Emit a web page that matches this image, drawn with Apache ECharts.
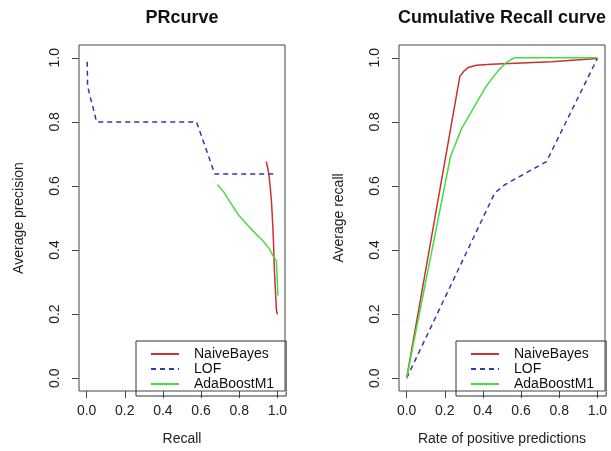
<!DOCTYPE html>
<html>
<head>
<meta charset="utf-8">
<title>PR / Cumulative Recall</title>
<script src="https://cdn.jsdelivr.net/npm/echarts@6/dist/echarts.min.js"></script>
<style>
  html, body { margin: 0; padding: 0; background: #fff; }
  #main { width: 611px; height: 451px; }
</style>
</head>
<body>
<div id="main"></div>
<script type="text/javascript">
// tick labels (both axes, both panels)
var ticks = [0, 0.2, 0.4, 0.6, 0.8, 1.0];
var names = ['NaiveBayes', 'LOF', 'AdaBoostM1'];

// PR curve (recall, precision)
var prNbX  = [0.942, 0.948, 0.956, 0.962, 0.969, 0.973, 0.977, 0.980, 0.982, 0.985, 0.989, 0.992, 0.995, 1.0];
var prNbY  = [0.676, 0.660, 0.635, 0.600, 0.552, 0.510, 0.464, 0.420, 0.377, 0.330, 0.284, 0.250, 0.212, 0.199];
var prLofX = [0.003, 0.005, 0.017, 0.035, 0.052, 0.576, 0.672, 0.991];
var prLofY = [0.988, 0.913, 0.882, 0.841, 0.800, 0.800, 0.637, 0.637];
var prAdaX = [0.686, 0.720, 0.750, 0.794, 0.855, 0.925, 0.960, 0.977, 0.995, 1.003, 1.003];
var prAdaY = [0.604, 0.580, 0.552, 0.511, 0.470, 0.428, 0.402, 0.382, 0.366, 0.360, 0.258];

// cumulative recall (rate of positive predictions, recall)
var crNbX  = [0, 0.279, 0.300, 0.323, 0.366, 0.445, 0.759, 1.0];
var crNbY  = [0, 0.942, 0.958, 0.970, 0.977, 0.980, 0.988, 0.998];
var crLofX = [0, 0.462, 0.515, 0.733, 1.0];
var crLofY = [0, 0.578, 0.604, 0.676, 0.998];
var crAdaX = [0, 0.230, 0.288, 0.358, 0.419, 0.480, 0.524, 0.564, 1.0];
var crAdaY = [0, 0.692, 0.779, 0.851, 0.913, 0.960, 0.986, 1.000, 1.0];

var colors = ['#c83232', '#3535b0', '#44dd44'];
var font = 'Liberation Sans, Arial, sans-serif';

function zip(xs, ys) {
  return xs.map(function (x, i) { return [x, ys[i]]; });
}

function axis(idx, name, isY) {
  return {
    type: 'value',
    gridIndex: idx,
    min: -0.04,
    max: 1.04,
    name: name,
    nameLocation: 'middle',
    nameGap: isY ? 53 : 41,
    nameTextStyle: { color: '#222', fontSize: 14, fontFamily: font },
    axisLine: { show: false, onZero: false },
    splitLine: { show: false },
    axisTick: {
      show: true, inside: false, length: 7,
      customValues: ticks,
      lineStyle: { color: '#444', width: 1 }
    },
    axisLabel: {
      customValues: ticks,
      color: '#222', fontSize: 14, fontFamily: font,
      margin: isY ? 17 : 13,
      rotate: isY ? 90 : 0,
      formatter: function (v) { return v.toFixed(1); }
    }
  };
}

function line(name, data, i, xi) {
  return {
    name: name,
    type: 'line',
    xAxisIndex: xi,
    yAxisIndex: xi,
    data: data,
    showSymbol: false,
    symbol: 'none',
    animation: false,
    lineStyle: { color: colors[i], width: 1.5, type: i === 1 ? [5, 4] : 'solid' },
    itemStyle: { color: colors[i] }
  };
}

function legend(left) {
  return {
    data: names,
    orient: 'vertical',
    left: left,
    top: 341,
    padding: [6, 12, 5, 14],
    itemWidth: 28,
    itemHeight: 14,
    itemGap: 1,
    itemStyle: { opacity: 0 },
    borderColor: '#333',
    borderWidth: 1,
    borderRadius: 0,
    textStyle: { color: '#111', fontSize: 14, fontFamily: font, padding: [0, 0, 0, 10] }
  };
}

var myChart = echarts.init(document.getElementById('main'));

var option = {
  backgroundColor: '#fff',
  animation: false,
  title: [
    { text: 'PRcurve', left: 182, top: 9, textAlign: 'center', padding: 0,
      textStyle: { fontSize: 18, fontWeight: 'bold', color: '#111', fontFamily: font } },
    { text: 'Cumulative Recall curve', left: 502, top: 9, textAlign: 'center', padding: 0,
      textStyle: { fontSize: 18, fontWeight: 'bold', color: '#111', fontFamily: font } }
  ],
  legend: [legend(136), legend(456)],
  grid: [
    { left: 79, top: 45, width: 206, height: 350, show: true, borderColor: '#444', borderWidth: 1, backgroundColor: 'transparent' },
    { left: 399, top: 45, width: 206, height: 350, show: true, borderColor: '#444', borderWidth: 1, backgroundColor: 'transparent' }
  ],
  xAxis: [axis(0, 'Recall', false), axis(1, 'Rate of positive predictions', false)],
  yAxis: [axis(0, 'Average precision', true), axis(1, 'Average recall', true)],
  series: [
    line('NaiveBayes', zip(prNbX, prNbY), 0, 0),
    line('LOF', zip(prLofX, prLofY), 1, 0),
    line('AdaBoostM1', zip(prAdaX, prAdaY), 2, 0),
    line('NaiveBayes', zip(crNbX, crNbY), 0, 1),
    line('LOF', zip(crLofX, crLofY), 1, 1),
    line('AdaBoostM1', zip(crAdaX, crAdaY), 2, 1)
  ]
};
myChart.setOption(option);
</script>
</body>
</html>
